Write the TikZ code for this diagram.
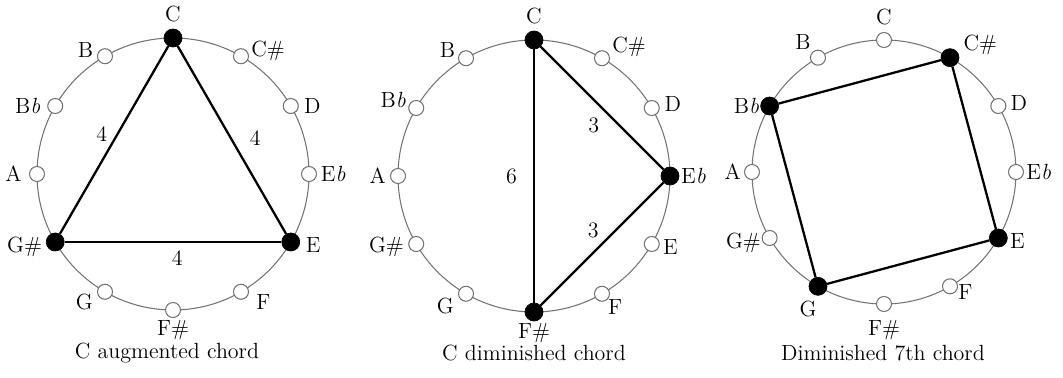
\documentclass[tikz,border=0pt]{standalone}
\usetikzlibrary{positioning}
\tikzset{
  wheel/.style={draw=black!55, line width=0.6pt},
  note node/.style={circle, draw=black!55, fill=white, minimum size=3mm,
                    inner sep=0pt, line width=0.6pt},
  chord node/.style={circle, draw=black, fill=black, minimum size=3.6mm,
                     inner sep=0pt},
  lbl/.style={font=\fontsize{12.5}{14}\selectfont, inner sep=0pt},
  num/.style={font=\fontsize{12.5}{14}\selectfont, inner sep=0pt},
  caption/.style={font=\fontsize{12.5}{14}\selectfont, inner sep=0pt},
  chord line/.style={line width=1.3pt, black},
}

\begin{document}
\begin{tikzpicture}
    \useasboundingbox (0,0) rectangle (21.26,7.56);

    % C augmented chord
    \begin{scope}[shift={(3.46,4.08)}]
    \draw[wheel] (0,0) circle (2.72);
    \node[chord node] (aug_0) at (90:2.72) {};
    \node[lbl, above=1.3mm of aug_0] {C};
    \node[note node] (aug_1) at (60:2.72) {};
    \node[lbl, right=0.4mm of aug_1, yshift=1mm] {C\#};
    \node[note node] (aug_2) at (30:2.72) {};
    \node[lbl, right=1mm of aug_2] {D};
    \node[note node] (aug_3) at (0:2.72) {};
    \node[lbl, right=0.7mm of aug_3] {E\textit{b}};
    \node[chord node] (aug_4) at (-30:2.72) {};
    \node[lbl, right=1.1mm of aug_4, yshift=-0.6mm] {E};
    \node[note node] (aug_5) at (-60:2.72) {};
    \node[lbl, right=1.4mm of aug_5, yshift=-2mm] {F};
    \node[note node] (aug_6) at (-90:2.72) {};
    \node[lbl, below=0.4mm of aug_6] {F\#};
    \node[note node] (aug_7) at (-120:2.72) {};
    \node[lbl, left=0.8mm of aug_7, yshift=-2mm] {G};
    \node[chord node] (aug_8) at (-150:2.72) {};
    \node[lbl, left=0.7mm of aug_8, yshift=-1mm] {G\#};
    \node[note node] (aug_9) at (180:2.72) {};
    \node[lbl, left=1.4mm of aug_9] {A};
    \node[note node] (aug_10) at (150:2.72) {};
    \node[lbl, left=1.3mm of aug_10] {B\textit{b}};
    \node[note node] (aug_11) at (120:2.72) {};
    \node[lbl, left=0.7mm of aug_11, yshift=1.2mm] {B};
    \end{scope}
    \draw[chord line] (aug_0) -- node[num, pos=0.47, left=1.8mm] {4} (aug_8);
    \draw[chord line] (aug_0) -- node[num, pos=0.49, right=3.6mm] {4} (aug_4);
    \draw[chord line] (aug_8) -- node[num, pos=0.52, below=1.5mm] {4} (aug_4);
    \node[caption] (cap_aug) at (3.34,0.5) {C augmented chord};

    % C diminished chord
    \begin{scope}[shift={(10.68,4.04)}]
    \draw[wheel] (0,0) circle (2.72);
    \node[chord node] (dim_0) at (90:2.72) {};
    \node[lbl, above=1.3mm of dim_0] {C};
    \node[note node] (dim_1) at (60:2.72) {};
    \node[lbl, right=0.4mm of dim_1, yshift=2.2mm] {C\#};
    \node[note node] (dim_2) at (30:2.72) {};
    \node[lbl, right=0.9mm of dim_2, yshift=0.8mm] {D};
    \node[chord node] (dim_3) at (0:2.72) {};
    \node[lbl, right=0.3mm of dim_3] {E\textit{b}};
    \node[note node] (dim_4) at (-30:2.72) {};
    \node[lbl, right=0.6mm of dim_4, yshift=-0.6mm] {E};
    \node[note node] (dim_5) at (-60:2.72) {};
    \node[lbl, below right=0mm of dim_5] {F};
    \node[chord node] (dim_6) at (-90:2.72) {};
    \node[lbl, below=0.4mm of dim_6] {F\#};
    \node[note node] (dim_7) at (-120:2.72) {};
    \node[lbl, left=0.8mm of dim_7, yshift=-2.4mm] {G};
    \node[note node] (dim_8) at (-150:2.72) {};
    \node[lbl, left=0.8mm of dim_8, yshift=-0.6mm] {G\#};
    \node[note node] (dim_9) at (180:2.72) {};
    \node[lbl, left=0.8mm of dim_9] {A};
    \node[note node] (dim_10) at (150:2.72) {};
    \node[lbl, left=0.4mm of dim_10, yshift=1.6mm] {B\textit{b}};
    \node[note node] (dim_11) at (120:2.72) {};
    \node[lbl, left=0.5mm of dim_11, yshift=1.6mm] {B};
    \end{scope}
    \draw[chord line] (dim_0) -- node[num, pos=0.5, left=3.2mm] {6} (dim_6);
    \draw[chord line] (dim_0) -- node[num, pos=0.53, below left=1.5mm] {3} (dim_3);
    \draw[chord line] (dim_3) -- node[num, pos=0.49, above left=1mm] {3} (dim_6);
    \node[caption] (cap_dim) at (10.68,0.5) {C diminished chord};

    % diminished 7th chord
    \begin{scope}[shift={(17.68,4.12)}]
    \draw[wheel] (0,0) circle (2.64);
    \node[note node] (sev_0) at (90:2.64) {};
    \node[lbl, above=1.4mm of sev_0] {C};
    \node[chord node] (sev_1) at (60:2.64) {};
    \node[lbl, right=0.8mm of sev_1, yshift=2.6mm] {C\#};
    \node[note node] (sev_2) at (30:2.64) {};
    \node[lbl, right=0.8mm of sev_2, yshift=0.6mm] {D};
    \node[note node] (sev_3) at (0:2.64) {};
    \node[lbl, right=0.4mm of sev_3] {E\textit{b}};
    \node[chord node] (sev_4) at (-30:2.64) {};
    \node[lbl, right=0.4mm of sev_4, yshift=-0.6mm] {E};
    \node[note node] (sev_5) at (-60:2.64) {};
    \node[lbl, right=0mm of sev_5, yshift=-1.2mm] {F};
    \node[note node] (sev_6) at (-90:2.64) {};
    \node[lbl, below=1.6mm of sev_6] {F\#};
    \node[chord node] (sev_7) at (-120:2.64) {};
    \node[lbl, below=1.1mm of sev_7, xshift=-2mm] {G};
    \node[note node] (sev_8) at (-150:2.64) {};
    \node[lbl, left=0.1mm of sev_8, yshift=-1mm] {G\#};
    \node[note node] (sev_9) at (180:2.64) {};
    \node[lbl, left=0.6mm of sev_9] {A};
    \node[chord node] (sev_10) at (150:2.64) {};
    \node[lbl, left=0.2mm of sev_10] {B\textit{b}};
    \node[note node] (sev_11) at (120:2.64) {};
    \node[lbl, above left=0.5mm and 0.3mm of sev_11] {B};
    \end{scope}
    \draw[chord line] (sev_10) -- (sev_1);
    \draw[chord line] (sev_1) -- (sev_4);
    \draw[chord line] (sev_4) -- (sev_7);
    \draw[chord line] (sev_7) -- (sev_10);
    \node[caption] (cap_sev) at (17.66,0.5) {Diminished 7th chord};
\end{tikzpicture}
\end{document}
